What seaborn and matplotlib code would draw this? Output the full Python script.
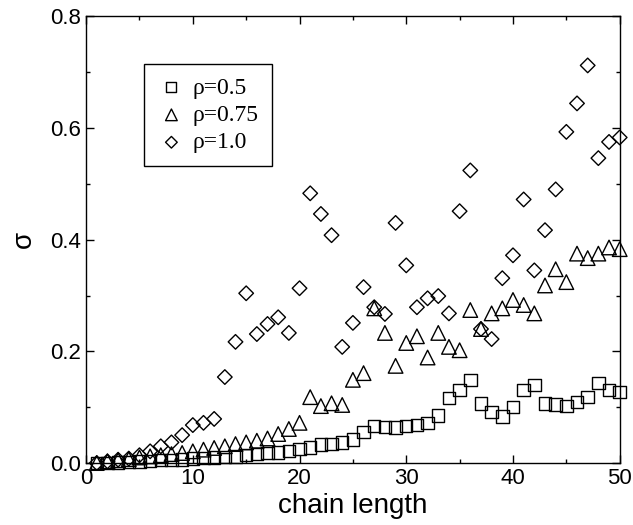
import numpy as np
import pandas as pd
import matplotlib
matplotlib.use("Agg")
import matplotlib.pyplot as plt
import seaborn as sns
from matplotlib.ticker import MultipleLocator

# chain length 1..50
chain = list(range(1, 51))

# rho = 0.5 (squares)
sig_05 = [0.000, 0.000, 0.001, 0.002, 0.003, 0.004, 0.005, 0.005, 0.006, 0.008,
          0.009, 0.010, 0.011, 0.012, 0.014, 0.016, 0.018, 0.019, 0.022, 0.025,
          0.028, 0.033, 0.034, 0.037, 0.042, 0.056, 0.066, 0.065, 0.064, 0.066,
          0.068, 0.072, 0.085, 0.116, 0.131, 0.149, 0.107, 0.091, 0.083, 0.100,
          0.131, 0.140, 0.107, 0.105, 0.102, 0.109, 0.118, 0.143, 0.131, 0.127]

# rho = 0.75 (triangles)
sig_075 = [0.000, 0.003, 0.005, 0.007, 0.010, 0.012, 0.014, 0.016, 0.018, 0.021,
           0.024, 0.027, 0.030, 0.034, 0.037, 0.040, 0.044, 0.052, 0.061, 0.072,
           0.118, 0.102, 0.107, 0.104, 0.149, 0.161, 0.277, 0.233, 0.174, 0.215,
           0.227, 0.189, 0.233, 0.208, 0.202, 0.274, 0.240, 0.268, 0.277, 0.292,
           0.283, 0.268, 0.318, 0.347, 0.324, 0.375, 0.367, 0.375, 0.386, 0.383]

# rho = 1.0 (diamonds)
sig_10 = [0.000, 0.003, 0.006, 0.008, 0.014, 0.021, 0.030, 0.037, 0.050, 0.068,
          0.072, 0.079, 0.154, 0.217, 0.304, 0.231, 0.249, 0.261, 0.233, 0.313,
          0.483, 0.446, 0.408, 0.208, 0.251, 0.315, 0.279, 0.267, 0.430, 0.354,
          0.279, 0.295, 0.299, 0.268, 0.451, 0.524, 0.240, 0.222, 0.331, 0.372,
          0.472, 0.345, 0.417, 0.490, 0.593, 0.644, 0.712, 0.546, 0.575, 0.583]

labels = ["\u03c1=0.5", "\u03c1=0.75", "\u03c1=1.0"]
markers = ["s", "^", "D"]
sizes = [80, 110, 55]

sns.set_style("ticks")
plt.rcParams['font.family'] = ['Liberation Sans', 'DejaVu Sans']
plt.rcParams['text.color'] = 'black'
plt.rcParams['axes.labelcolor'] = 'black'

fig = plt.figure(figsize=(6.33, 5.25), dpi=100)
ax = fig.add_axes([0.136, 0.118, 0.843, 0.851])

for ys, lab, m, s in zip([sig_05, sig_075, sig_10], labels, markers, sizes):
    sns.scatterplot(x=chain, y=ys, marker=m, s=s, facecolor="none",
                    edgecolor="black", linewidth=1.0, label=lab, ax=ax,
                    clip_on=False, zorder=3)

ax.set_xlim(0, 50)
ax.set_ylim(0, 0.8)
ax.xaxis.set_major_locator(MultipleLocator(10))
ax.xaxis.set_minor_locator(MultipleLocator(5))
ax.yaxis.set_major_locator(MultipleLocator(0.2))
ax.yaxis.set_minor_locator(MultipleLocator(0.1))
ax.yaxis.set_major_formatter(matplotlib.ticker.FormatStrFormatter("%.1f"))
ax.tick_params(which="both", direction="in", top=True, right=True,
               colors="black", labelcolor="black", labelsize=16, width=1.0)
ax.tick_params(which="major", length=6)
ax.tick_params(which="minor", length=3)
for sp in ax.spines.values():
    sp.set_visible(True)
    sp.set_color("black")
    sp.set_linewidth(1.0)

ax.set_xlabel("chain length", fontsize=20, labelpad=3, color="black")
ax.set_ylabel("\u03c3", fontsize=20, labelpad=10, color="black")

leg = ax.legend(loc="upper left", bbox_to_anchor=(0.109, 0.893), frameon=True,
                fancybox=False, edgecolor="black", framealpha=1,
                prop={"family": "Liberation Serif", "size": 17},
                handletextpad=0.3, borderpad=0.55, labelspacing=0.25,
                markerscale=0.8, handlelength=1.2, borderaxespad=0)
leg.get_frame().set_linewidth(1.0)
for t in leg.get_texts():
    t.set_color("black")

plt.savefig("out.png", dpi=100)
